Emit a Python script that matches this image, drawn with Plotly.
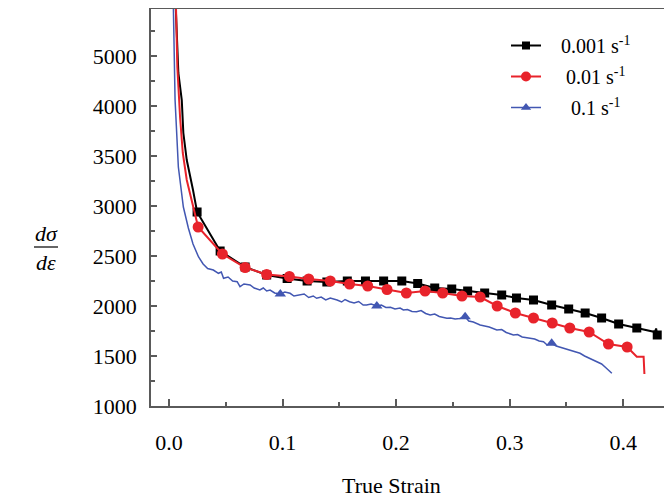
import plotly.graph_objects as go

# ---------------- data ----------------
# 0.001 s^-1 (black, squares)
strain_001 = [0.0055, 0.006, 0.0082, 0.0112, 0.0126, 0.0156, 0.0211,
              0.0247, 0.045, 0.067, 0.086, 0.104, 0.1216, 0.139, 0.157, 0.173, 0.189,
              0.205, 0.219, 0.234, 0.249, 0.263, 0.278, 0.293, 0.306, 0.321, 0.337,
              0.352, 0.3665, 0.381, 0.396, 0.412, 0.428, 0.429, 0.430]
rate_001 = [5300, 4960, 4330, 4060, 3730, 3460, 3160,
            2940, 2550, 2390, 2310, 2275, 2250, 2240, 2250, 2250, 2250,
            2250, 2225, 2180, 2170, 2150, 2130, 2110, 2080, 2060, 2010,
            1970, 1930, 1880, 1820, 1780, 1740, 1775, 1710]
mk_strain_001 = [0.0247, 0.045, 0.067, 0.086, 0.104, 0.1216, 0.139, 0.157, 0.173, 0.189,
                 0.205, 0.219, 0.234, 0.249, 0.263, 0.278, 0.293, 0.306, 0.321, 0.337,
                 0.352, 0.3665, 0.381, 0.396, 0.412, 0.430]
mk_rate_001 = [2940, 2550, 2390, 2310, 2275, 2250, 2240, 2250, 2250, 2250,
               2250, 2225, 2180, 2170, 2150, 2130, 2110, 2080, 2060, 2010,
               1970, 1930, 1880, 1820, 1780, 1710]

# 0.01 s^-1 (red, circles)
strain_01 = [0.0055, 0.0062, 0.0073, 0.0097, 0.0121, 0.0156, 0.0211,
             0.0256, 0.047, 0.067, 0.086, 0.106, 0.123, 0.142, 0.159, 0.175, 0.192,
             0.209, 0.2255, 0.241, 0.258, 0.274, 0.289, 0.305, 0.321, 0.3375, 0.353,
             0.370, 0.387, 0.4035, 0.412, 0.418, 0.4187]
rate_01 = [5300, 4960, 4390, 3890, 3530, 3260, 2990,
           2790, 2520, 2385, 2315, 2295, 2270, 2250, 2220, 2200, 2165,
           2130, 2150, 2130, 2100, 2090, 2000, 1930, 1880, 1830, 1780,
           1740, 1620, 1590, 1493, 1493, 1320]
mk_strain_01 = [0.0256, 0.047, 0.067, 0.086, 0.106, 0.123, 0.142, 0.159, 0.175, 0.192,
                0.209, 0.2255, 0.241, 0.258, 0.274, 0.289, 0.305, 0.321, 0.3375, 0.353,
                0.370, 0.387, 0.4035]
mk_rate_01 = [2790, 2520, 2385, 2315, 2295, 2270, 2250, 2220, 2200, 2165,
              2130, 2150, 2130, 2100, 2090, 2000, 1930, 1880, 1830, 1780,
              1740, 1620, 1590]

# 0.1 s^-1 (blue, triangles)
strain_1 = [0.0033, 0.0038, 0.0053, 0.0082, 0.0126, 0.017, 0.0211, 0.026,
            0.030, 0.034, 0.039, 0.0435, 0.046, 0.048, 0.052, 0.056, 0.060, 0.0625,
            0.066, 0.0714, 0.075, 0.080, 0.083, 0.086, 0.089, 0.093, 0.098, 0.102,
            0.1066, 0.110, 0.1154, 0.119, 0.123, 0.127, 0.130, 0.134, 0.138, 0.142,
            0.148, 0.152, 0.155, 0.159, 0.163, 0.167, 0.171, 0.174, 0.178, 0.183,
            0.187, 0.191, 0.195, 0.199, 0.2035, 0.2064, 0.210, 0.214, 0.218, 0.222,
            0.226, 0.230, 0.234, 0.238, 0.2447, 0.248, 0.252, 0.256, 0.2608, 0.264,
            0.268, 0.271, 0.274, 0.278, 0.282, 0.2887, 0.293, 0.297, 0.3033, 0.307,
            0.311, 0.318, 0.322, 0.326, 0.3298, 0.333, 0.337, 0.341, 0.3474, 0.352,
            0.357, 0.362, 0.366, 0.370, 0.3768, 0.381, 0.385, 0.390]
rate_1 = [5300, 4960, 4060, 3390, 2990, 2780, 2620, 2490,
          2420, 2375, 2360, 2327, 2340, 2277, 2290, 2250, 2243, 2193,
          2220, 2210, 2180, 2160, 2180, 2150, 2160, 2130, 2120, 2140,
          2127, 2100, 2110, 2120, 2085, 2100, 2077, 2090, 2060, 2080,
          2060, 2040, 2065, 2043, 2030, 2045, 2010, 2010, 2020, 2000,
          2010, 1985, 1987, 1970, 1980, 1960, 1965, 1945, 1943, 1955,
          1925, 1910, 1920, 1895, 1877, 1880, 1870, 1875, 1893, 1850,
          1840, 1825, 1810, 1800, 1790, 1760, 1765, 1735, 1710, 1715,
          1690, 1677, 1670, 1650, 1643, 1610, 1627, 1600, 1577, 1560,
          1540, 1527, 1500, 1480, 1443, 1420, 1380, 1327]
mk_strain_1 = [0.098, 0.183, 0.2608, 0.337]
mk_rate_1 = [2120, 2000, 1893, 1627]

# y tick labels as printed on the reference axis
y_tickvals = [1000, 1500, 2000, 2500, 3000, 3500, 4000, 4500]
y_ticktext = ["1000", "1500", "2000", "2500", "3000", "3500", "4000", "5000"]
x_tickvals = [0.0, 0.1, 0.2, 0.3, 0.4]
x_ticktext = ["0.0", "0.1", "0.2", "0.3", "0.4"]

series_names = ["0.001 s<sup>-1</sup>", "0.01 s<sup>-1</sup>", "0.1 s<sup>-1</sup>"]
x_title = "True Strain"

# ---------------- figure ----------------
FONT = "Liberation Serif"
BLACK = "#000000"
RED = "#e8232b"
BLUE = "#4257b2"
NB = "\u00a0"

# page body has an 8px margin: the figure is sized so that it fits the window
W, H = 664, 492
L, T, B, R = 143, 1, 94, 0
PW, PH = W - L - R, H - T - B

def px_x(p):  # window pixel -> paper x
    return (p - 8 - L) / PW

def px_y(p):  # window pixel -> paper y
    return 1 - (p - 8 - T) / PH

series = [
    (strain_001, rate_001, mk_strain_001, mk_rate_001, BLACK, "square", 9, 2.0, NB * 3),
    (strain_01, rate_01, mk_strain_01, mk_rate_01, RED, "circle", 11, 2.0, NB * 4),
    (strain_1, rate_1, mk_strain_1, mk_rate_1, BLUE, "triangle-up", 10, 1.5, NB * 5),
]

fig = go.Figure()
for i, ((sx, sy, mx, my, col, sym, msz, lw, pad), name) in enumerate(zip(series, series_names)):
    grp = f"g{i}"
    fig.add_trace(go.Scatter(x=sx, y=sy, mode="lines", showlegend=False, legendgroup=grp,
                             line=dict(color=col, width=lw), hoverinfo="skip"))
    fig.add_trace(go.Scatter(x=mx, y=my, mode="markers", showlegend=False, legendgroup=grp,
                             marker=dict(color=col, symbol=sym, size=msz, line=dict(width=0))))
    fig.add_trace(go.Scatter(x=[None], y=[None], mode="lines+markers", name=pad + name,
                             legendgroup=grp,
                             line=dict(color=col, width=lw),
                             marker=dict(color=col, symbol=sym, size=msz - 1)))

axis_col = "#5a5a5a"
fig.update_layout(
    width=W, height=H,
    margin=dict(l=L, r=R, t=T, b=B),
    paper_bgcolor="white", plot_bgcolor="white",
    font=dict(family=FONT, size=22, color="black"),
    legend=dict(x=px_x(506), y=px_y(26), xanchor="left", yanchor="top",
                bgcolor="rgba(0,0,0,0)", font=dict(family=FONT, size=20, color="black"),
                itemwidth=30, tracegroupgap=2),
    xaxis=dict(range=[-0.0159, 0.443], tickvals=x_tickvals, ticktext=x_ticktext,
               ticks="inside", ticklen=7, tickwidth=1.5, tickcolor=axis_col,
               showline=True, linecolor=axis_col, linewidth=1.5, mirror=True,
               showgrid=False, zeroline=False, ticklabelstandoff=16,
               minor=dict(ticks="inside", ticklen=4, tickcolor=axis_col, dtick=0.05, tick0=0)),
    yaxis=dict(range=[1000, 4970], tickvals=y_tickvals, ticktext=y_ticktext,
               ticks="inside", ticklen=6, tickwidth=1.5, tickcolor=axis_col,
               showline=True, linecolor=axis_col, linewidth=1.5, mirror=False,
               showgrid=False, zeroline=False, ticklabelstandoff=8,
               minor=dict(ticks="inside", ticklen=4, tickcolor=axis_col, dtick=250, tick0=1000)),
)

# x-axis title (centred where the reference puts it)
fig.add_annotation(text=x_title, xref="paper", yref="paper", xanchor="center",
                   yanchor="middle", x=px_x(391), y=px_y(485), showarrow=False,
                   font=dict(family=FONT, size=22, color="black"))

# y-axis title as a fraction d(sigma)/d(epsilon)
fig.add_annotation(text="<i>dσ</i>", xref="paper", yref="paper", xanchor="center",
                   yanchor="middle", x=px_x(46), y=px_y(233), showarrow=False,
                   font=dict(family=FONT, size=22, color="black"))
fig.add_annotation(text="<i>dε</i>", xref="paper", yref="paper", xanchor="center",
                   yanchor="middle", x=px_x(46), y=px_y(262), showarrow=False,
                   font=dict(family=FONT, size=22, color="black"))
fig.add_shape(type="line", xref="paper", yref="paper",
              x0=px_x(34), x1=px_x(58), y0=px_y(247), y1=px_y(247),
              line=dict(color="black", width=1.2))

fig.write_html("out.html")
